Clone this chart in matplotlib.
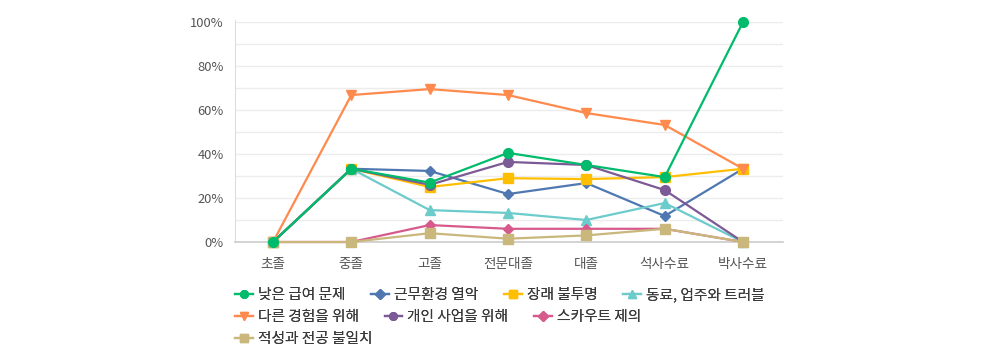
import matplotlib
matplotlib.use('Agg')
import matplotlib.pyplot as plt
from matplotlib.ticker import MultipleLocator, FuncFormatter

plt.rcParams['font.family'] = ['Noto Sans CJK KR', 'DejaVu Sans']

categories = ['초졸', '중졸', '고졸', '전문대졸', '대졸', '석사수료', '박사수료']

low_pay = [0, 33.3, 27, 40.5, 35, 29.5, 100]
bad_env = [0, 33.3, 32.3, 21.8, 26.8, 11.8, 33.3]
uncertain = [0, 33.3, 25, 29, 28.6, 29.5, 33.3]
coworkers = [0, 33.3, 14.5, 13.2, 10, 17.7, 0]
other_exp = [0, 66.8, 69.5, 66.8, 58.6, 53.2, 33.3]
own_business = [0, 33.3, 26, 36.4, 35, 23.6, 0]
scouted = [0, 0, 7.7, 6, 6, 6, 0]
aptitude = [0, 0, 4, 1.5, 3, 6, 0]

series = [
    ('낮은 급여 문제', low_pay, '#00bb6b', 'o', 7),
    ('근무환경 열악', bad_env, '#4f78b2', 'D', 5),
    ('장래 불투명', uncertain, '#ffbf00', 's', 6.5),
    ('동료, 업주와 트러블', coworkers, '#6ccbcb', '^', 7),
    ('다른 경험을 위해', other_exp, '#ff8a4d', 'v', 7),
    ('개인 사업을 위해', own_business, '#7c5a95', 'o', 7),
    ('스카우트 제의', scouted, '#d75a8c', 'D', 5),
    ('적성과 전공 불일치', aptitude, '#c9b77c', 's', 6.5),
]

fig = plt.figure(figsize=(9.81, 3.57), dpi=100)
ax = fig.add_axes([235 / 981, 1 - 242 / 357, 548 / 981, 220 / 357])

x = list(range(len(categories)))
handles = []
for i, (name, vals, color, mk, ms) in enumerate(series):
    z = 10 if i == 0 else 3 + i * 0.1
    h, = ax.plot(x, vals, color=color, lw=1.6, marker=mk, markersize=ms,
                 markeredgecolor=color, label=name, zorder=z, clip_on=False)
    handles.append(h)

ax.set_xlim(-0.485, 6.51)
ax.set_ylim(0, 100)
ax.set_xticks(x)
ax.set_xticklabels(categories)
ax.yaxis.set_major_locator(MultipleLocator(20))
ax.yaxis.set_minor_locator(MultipleLocator(10))
ax.yaxis.set_major_formatter(FuncFormatter(lambda v, p: f'{int(v)}%'))
ax.grid(which='both', axis='y', color='#ececec', lw=1, zorder=0)
ax.tick_params(axis='both', which='both', length=0, labelcolor='#555555')
ax.tick_params(axis='y', pad=8, labelsize=9.3)
ax.tick_params(axis='x', pad=11, labelsize=9.8)
for s in ['top', 'right']:
    ax.spines[s].set_visible(False)
ax.spines['left'].set_color('#dddddd')
ax.spines['bottom'].set_color('#cccccc')
ax.spines['bottom'].set_linewidth(1.2)
ax.spines['left'].set_bounds(0, 101)

rows = [handles[0:4], handles[4:7], handles[7:8]]
row_y = [295, 317, 339]
for hs, yy in zip(rows, row_y):
    leg = fig.legend(handles=hs, loc='center left', ncol=len(hs),
                     bbox_to_anchor=(235 / 981, 1 - yy / 357), frameon=False,
                     fontsize=10.6, handlelength=1.2, handletextpad=0.35,
                     columnspacing=1.75, borderaxespad=0, borderpad=0,
                     labelcolor='#3a3a3a')
    for lh in leg.legend_handles:
        lh.set_markersize(5.5)
    fig.add_artist(leg)

fig.savefig('out.png', dpi=100)
